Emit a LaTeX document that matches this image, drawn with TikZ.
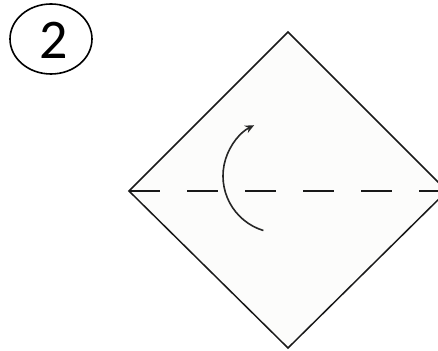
\documentclass[tikz,border=0pt]{standalone}
\usepackage{fontspec}
\setmainfont{Carlito}
\usetikzlibrary{arrows.meta,shapes.geometric}
\definecolor{paperfill}{RGB}{252,252,251}
\tikzset{
  paper/.style={draw=black!90, line width=1.5pt, fill=paperfill, line join=miter},
  foldline/.style={draw=black!90, line width=2.6pt, dash pattern=on 31pt off 27pt},
  foldarrow/.style={draw=black!85, line width=1.6pt, -{Stealth[length=9pt,width=8pt]}},
  stepmark/.style={draw=black, line width=1.6pt, ellipse, minimum width=82pt, minimum height=70pt, inner sep=0pt},
}
\begin{document}
\begin{tikzpicture}[x=1pt,y=1pt]
  \useasboundingbox (0,0) rectangle (438,350);
  \clip (0,0) rectangle (438,350);
  % step number
  \node[stepmark] (num) at (51,311) {};
  \node[font=\fontsize{56}{56}\selectfont, inner sep=0pt] (digit) at (54,310) {2};
  % square paper as diamond
  \coordinate (T) at (288,318);
  \coordinate (L) at (129,159);
  \coordinate (B) at (288,2);
  \coordinate (R) at (447,159);
  \path[paper] (T) -- (L) -- (B) -- (R) -- cycle;
  % valley fold line
  \draw[foldline] (L) -- (R);
  % fold arrow
  \coordinate (C) at (280,174);
  \draw[foldarrow] ([shift={(253:57)}]C) arc[start angle=253, end angle=117, radius=57pt];
\end{tikzpicture}
\end{document}
